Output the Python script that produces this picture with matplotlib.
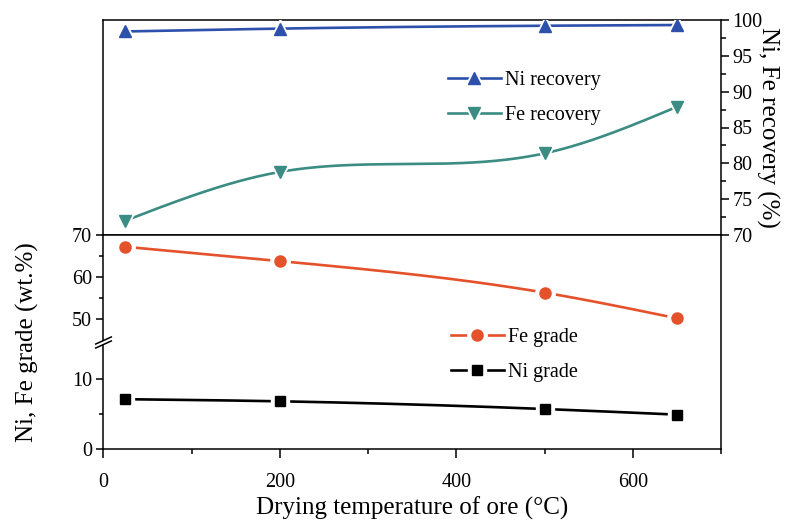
import numpy as np
import matplotlib
matplotlib.use('Agg')
import matplotlib.pyplot as plt
from matplotlib.path import Path
from matplotlib.ticker import FixedLocator, MultipleLocator

plt.rcParams['font.family'] = ['Liberation Serif', 'DejaVu Serif']

# data
temp = np.array([25, 200, 500, 650])
ni_recovery = np.array([98.4, 98.8, 99.2, 99.3])
fe_recovery = np.array([72.0, 78.8, 81.4, 87.9])
fe_grade = np.array([67.2, 63.8, 56.3, 50.2])
ni_grade = np.array([7.1, 6.8, 5.7, 4.9])

blue = '#2d50ac'
teal = '#3b8c83'
orange = '#e4512b'


def spline(x, y, xs):
    # natural cubic spline, like Origin's "spline" connection
    x = np.asarray(x, float)
    y = np.asarray(y, float)
    n = len(x)
    h = np.diff(x)
    A = np.zeros((n, n))
    b = np.zeros(n)
    A[0, 0] = A[-1, -1] = 1
    for i in range(1, n - 1):
        A[i, i - 1] = h[i - 1]
        A[i, i] = 2 * (h[i - 1] + h[i])
        A[i, i + 1] = h[i]
        b[i] = 3 * ((y[i + 1] - y[i]) / h[i] - (y[i] - y[i - 1]) / h[i - 1])
    c = np.linalg.solve(A, b)
    bc = (y[1:] - y[:-1]) / h - h * (2 * c[:-1] + c[1:]) / 3
    d = (c[1:] - c[:-1]) / (3 * h)
    idx = np.clip(np.searchsorted(x, xs) - 1, 0, n - 2)
    dx = xs - x[idx]
    return y[idx] + bc[idx] * dx + c[idx] * dx ** 2 + d[idx] * dx ** 3


# broken left axis: 0-15.3 and 44.7-70
lo_top, hi_bot = 15.3, 44.7
xp = [-100, 0, lo_top, hi_bot, 70, 200]
fp = [-700, 0, lo_top * 7.0, lo_top * 7.0 + 0.2, lo_top * 7.0 + 0.2 + (70 - hi_bot) * 4.2,
      lo_top * 7.0 + 0.2 + (200 - hi_bot) * 4.2]


def fwd(v):
    return np.interp(v, xp, fp)


def inv(v):
    return np.interp(v, fp, xp)


fig = plt.figure(figsize=(7.95, 5.23), dpi=100)
L, W = 103.3 / 795, 618 / 795
ax_top = fig.add_axes([L, (523 - 235) / 523, W, 215 / 523])
ax_bot = fig.add_axes([L, (523 - 449) / 523, W, 214 / 523])

lw_sp = 1.1
for a in (ax_top, ax_bot):
    for s in a.spines.values():
        s.set_linewidth(lw_sp)
    a.set_xlim(0, 700)

xs = np.linspace(temp[0], temp[-1], 300)


def series(ax, y, color, marker, ms, label):
    ln, = ax.plot(xs, spline(temp, y, xs), color=color, lw=1.9, zorder=2)
    wm, = ax.plot(temp, y, ls='none', marker=marker, ms=ms + 6, mfc='white', mec='white', zorder=3)
    cm, = ax.plot(temp, y, ls='none', marker=marker, ms=ms, mfc=color, mec=color, zorder=4)
    return (ln, wm, cm), label


# top panel: recovery, right axis
h1 = series(ax_top, ni_recovery, blue, '^', 9, 'Ni recovery')
h2 = series(ax_top, fe_recovery, teal, 'v', 9, 'Fe recovery')
ax_top.set_ylim(70, 100)
ax_top.yaxis.tick_right()
ax_top.yaxis.set_label_position('right')
ax_top.yaxis.set_major_locator(MultipleLocator(5))
ax_top.yaxis.set_minor_locator(MultipleLocator(2.5))
ax_top.tick_params(axis='y', which='both', direction='out', right=True, left=False,
                   labelsize=14.5, width=lw_sp, pad=2)
ax_top.tick_params(axis='y', which='major', length=6)
ax_top.tick_params(axis='y', which='minor', length=3.5)
ax_top.tick_params(axis='x', which='both', bottom=False, labelbottom=False)
ax_top.set_ylabel('Ni, Fe recovery (%)', fontsize=18, rotation=270, labelpad=12)
ax_top.legend([h1[0], h2[0]], [h1[1], h2[1]], loc='upper left', bbox_to_anchor=(0.558, 0.765),
              frameon=False, fontsize=14.5, handlelength=2.6, handletextpad=0.2,
              labelspacing=0.8, borderpad=0, borderaxespad=0)

# bottom panel: grade, broken left axis
ax_bot.set_yscale('function', functions=(fwd, inv))
h3 = series(ax_bot, fe_grade, orange, 'o', 8, 'Fe grade')
h4 = series(ax_bot, ni_grade, 'black', 's', 6.5, 'Ni grade')
ax_bot.set_ylim(0, 70)
ax_bot.yaxis.set_major_locator(FixedLocator([0, 10, 50, 60, 70]))
ax_bot.yaxis.set_minor_locator(FixedLocator([5, 55, 65]))
ax_bot.xaxis.set_major_locator(MultipleLocator(200))
ax_bot.xaxis.set_minor_locator(MultipleLocator(100))
ax_bot.tick_params(axis='both', which='both', direction='out', labelsize=14.5, width=lw_sp)
ax_bot.tick_params(axis='y', which='major', length=5, pad=3)
ax_bot.tick_params(axis='y', which='minor', length=3)
ax_bot.tick_params(axis='x', which='major', length=6.5, pad=11)
ax_bot.tick_params(axis='x', which='minor', length=3.5)
ax_bot.tick_params(axis='y', which='both', right=False)
ax_bot.set_xlabel('Drying temperature of ore (°C)', fontsize=18, labelpad=3)
ax_bot.set_ylabel('Ni, Fe grade (wt.%)', fontsize=18, labelpad=24)
ax_bot.legend([h3[0], h4[0]], [h3[1], h4[1]], loc='upper left', bbox_to_anchor=(0.563, 0.565),
              frameon=False, fontsize=14.5, handlelength=2.6, handletextpad=0.2,
              labelspacing=0.8, borderpad=0, borderaxespad=0)

# break symbol on the left spine
k = 0.453
cover = Path([(-3, -2 - 3 * k + 0.4), (3, -2 + 3 * k + 0.4), (3, 2 + 3 * k - 0.4),
              (-3, 2 - 3 * k - 0.4), (-3, -2 - 3 * k + 0.4)])
marks = Path([(-8.5, -2 - 8.5 * k), (8.5, -2 + 8.5 * k), (-8.5, 2 - 8.5 * k), (8.5, 2 + 8.5 * k)],
             [Path.MOVETO, Path.LINETO, Path.MOVETO, Path.LINETO])
mid = 30
ax_bot.plot([0], [mid], marker=cover, ms=2 * np.abs(cover.vertices).max() * 0.72,
            mfc='white', mec='none', transform=ax_bot.get_yaxis_transform(), clip_on=False, zorder=10)
ax_bot.plot([0], [mid], marker=marks, ms=2 * np.abs(marks.vertices).max() * 0.72,
            mfc='none', mec='black', mew=1.1, transform=ax_bot.get_yaxis_transform(),
            clip_on=False, zorder=11)

fig.savefig('out.png', dpi=100)
